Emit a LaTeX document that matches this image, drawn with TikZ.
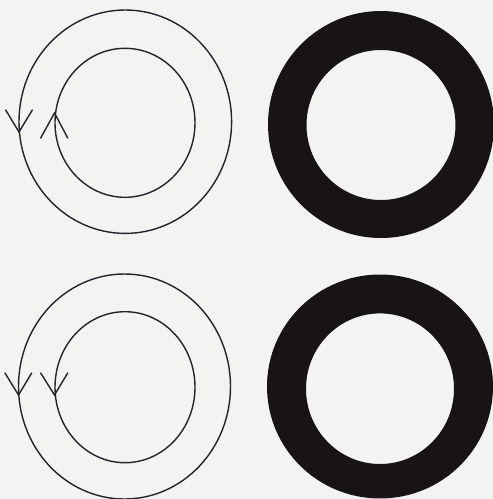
\documentclass[tikz,border=0pt]{standalone}
\usepackage{tikz}
\definecolor{paper}{RGB}{243,243,242}
\definecolor{inkline}{RGB}{35,35,45}
\definecolor{inkfill}{RGB}{24,20,22}

\begin{document}
\begin{tikzpicture}[
  x=1pt, y=-1pt,
  orbit/.style={draw=inkline, line width=1.4pt},
  tipv/.style={draw=inkline, line width=1.4pt, line cap=round},
  ring/.style={fill=inkfill, even odd rule}
]
% Sheet
\fill[paper] (0,0) rectangle (493,499);
\useasboundingbox (0,0) rectangle (493,499);

% Top left: opposite senses
\draw[orbit] (125.3,121.7) ellipse [x radius=106.3, y radius=111.7];
\draw[orbit] (125,122.8) ellipse [x radius=70, y radius=74.5];
\draw[tipv] (5.7,110) -- (19,132) -- (32.3,110);
\draw[tipv] (40.7,138) -- (54.5,113) -- (67.7,138);

% Bottom left: same sense
\draw[orbit] (124.5,386.5) ellipse [x radius=106, y radius=112.5];
\draw[orbit] (125,387.2) ellipse [x radius=70, y radius=75.5];
\draw[tipv] (5,373) -- (18.5,395) -- (31.7,373);
\draw[tipv] (40.7,373) -- (54.5,395) -- (67.7,373);

% Right: rings
\fill[ring] (381,124.5) ellipse [x radius=113, y radius=113.5]
            (381,125) ellipse [x radius=74.5, y radius=75];
\fill[ring] (380,386.5) ellipse [x radius=113, y radius=112]
            (380,388.7) ellipse [x radius=74, y radius=75.3];
\end{tikzpicture}
\end{document}
